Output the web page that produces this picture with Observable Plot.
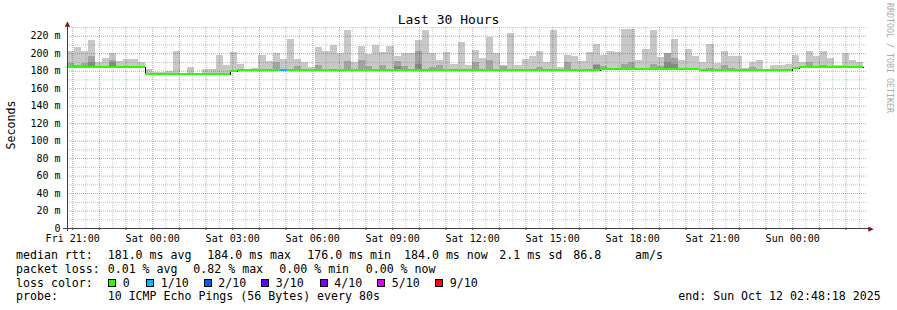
<!DOCTYPE html>
<html><head><meta charset="utf-8">
<script src="https://cdn.jsdelivr.net/npm/d3@7"></script>
<script src="https://cdn.jsdelivr.net/npm/@observablehq/plot@0.6"></script>
<style>
body{margin:0;background:#fff;}
#wrap{position:relative;width:897px;height:310px;background:#fff;overflow:hidden;font-family:"DejaVu Sans Mono",monospace;color:#000;}
#chart{position:absolute;left:0;top:0;}
.t{position:absolute;white-space:pre;font-size:11.6px;line-height:12px;}
.sw{position:absolute;width:8px;height:8px;box-sizing:border-box;border:1px solid #000;}
</style></head><body><div id="wrap"><div id="chart"></div></div>
<script>
// ---- time frame ----
const startTime = new Date(Date.UTC(2025, 9, 10, 20, 48, 18));
const endTime = new Date(Date.UTC(2025, 9, 12, 2, 48, 18));
const firstBoundary = Date.UTC(2025, 9, 10, 21, 3, 0);
const binMinutes = 16;

// ---- series values (ms), one per 16-minute column ----
const smokeMax = [
  203,207,202,215,190,195,200,191,193,193,
  190,182,179,179,180,202,177,184,177,182,
  182,198,186,201,188,182,183,198,191,200,
  193,216,193,190,184,207,203,209,200,226,
  190,208,199,209,201,208,197,200,200,215,
  226,200,192,201,188,213,187,204,194,219,
  200,186,223,186,193,197,203,190,226,184,
  198,197,191,201,211,198,203,201,228,228,
  192,205,227,196,200,216,192,205,197,190,
  210,189,202,197,197,183,190,192,181,186,
  186,188,198,190,202,197,203,194,186,200,
  192,190
];
const smokeMid = [
  189,186,189,197,null,null,192,null,null,null,
  null,null,null,null,null,null,null,null,null,null,
  null,null,null,null,null,null,null,null,null,190,
  null,null,185,null,null,186,null,null,null,191,
  null,192,185,null,186,null,191,185,null,203,
  null,184,186,null,null,null,null,190,null,192,
  null,185,null,null,null,null,184,null,null,null,
  190,null,null,null,188,185,null,null,188,190,
  null,null,188,185,200,194,null,null,null,null,
  183,null,186,183,null,null,184,null,null,null,
  null,null,null,null,190,null,186,null,null,null,
  null,null
];
const smokeDense = [
  null,null,null,190,null,null,190,null,null,null,
  null,null,null,null,null,null,null,null,null,null,
  null,null,null,null,null,null,null,null,null,null,
  null,null,null,null,null,null,null,null,null,null,
  null,null,null,null,null,null,185,null,null,188,
  null,null,null,null,null,null,null,null,null,null,
  null,null,null,null,null,null,null,null,null,null,
  null,null,null,null,186,null,null,null,null,null,
  null,null,null,null,190,188,null,null,null,null,
  null,null,null,null,null,null,null,null,null,null,
  null,null,null,null,null,null,null,null,null,null,
  null,null
];
const medians = [
  184,184,184,184,184,184,184,184,184,184,
  184,176,176,176,176,176,176,176,176,176,
  176,176,176,179.5,181,181,181,181,181,181,
  181,181,181,181,181,181,181,181,181,181,
  181,181,181,181,181,181,181,181,181,181,
  181,181,181,181,181,181,181,181,181,181,
  181,181,181,181,181,181,181,181,181,181,
  181,181,181,181,181,182,182,182,182,182,
  182,182,182,182,182,182,182,182,182,181,
  181,181,181,181,181,181,181,181,181,181,
  181,181,183,184,184,184,184,184,184,184,
  184,184
];
const lossLevel = [
  0,0,0,0,0,0,0,0,0,0,
  0,0,0,0,0,0,0,0,0,0,
  0,0,0,0,0,0,0,0,0,0,
  1,0,0,0,0,0,0,0,0,0,
  0,0,0,0,0,0,0,0,0,0,
  0,0,0,0,0,0,0,0,0,0,
  0,0,0,0,0,0,0,0,0,0,
  0,0,0,0,0,0,0,0,0,0,
  0,0,0,0,0,0,0,0,0,0,
  0,0,0,0,0,0,0,0,0,0,
  0,0,0,0,0,0,0,0,0,0,
  0,0
];

// ---- legend / labels ----
const lossColors = ["#26ff00", "#00b8ff", "#0059ff", "#5e00ff", "#7e00ff", "#dd00ff", "#ff0000"];
const lossLabels = ["0", "1/10", "2/10", "3/10", "4/10", "5/10", "9/10"];
const yTicks = [0,20,40,60,80,100,120,140,160,180,200,220];
const titleText = "Last 30 Hours";
const yLabel = "Seconds";
const sideText = "RRDTOOL / TOBI OETIKER";
const legendRtt = ["median rtt:", "181.0 ms avg", "184.0 ms max", "176.0 ms min", "184.0 ms now", "2.1 ms sd", "86.8", "am/s"];
const legendLoss = ["packet loss:", "0.01 % avg", "0.82 % max", "0.00 % min", "0.00 % now"];
const legendProbe = ["probe:", "10 ICMP Echo Pings (56 Bytes) every 80s", "end: Sun Oct 12 02:48:18 2025"];

// ---- build table ----
const binMs = binMinutes * 60 * 1000;
const cols = smokeMax.map((max, k) => ({
  x1: k === 0 ? startTime : new Date(firstBoundary + (k - 1) * binMs),
  x2: new Date(firstBoundary + k * binMs),
  max, mid: smokeMid[k], dense: smokeDense[k], median: medians[k], loss: lossLevel[k]
}));
const stepPts = cols.map(d => ({x: d.x1, y: d.median}));
stepPts.push({x: cols[cols.length - 1].x2, y: cols[cols.length - 1].median});

const majorY = yTicks.filter(v => v > 0);
const minorY = d3.range(10, 231, 20);
const majorX = d3.utcHour.range(startTime, endTime);
const minorX = d3.utcMinute.every(30).range(startTime, endTime).filter(d => d.getUTCMinutes() === 30);
const labelX = d3.utcHour.every(3).range(startTime, endTime);

const crisp = {shapeRendering: "crispEdges"};
const minorStyle = {stroke: "#808080", strokeOpacity: 0.45, strokeDasharray: "1,1"};
const majorStyle = {stroke: "#ff0000", strokeOpacity: 0.45, strokeDasharray: "1,1"};
const plot = Plot.plot({
  width: 897, height: 245,
  marginLeft: 67, marginRight: 30, marginTop: 27, marginBottom: 17,
  style: {fontFamily: "'DejaVu Sans Mono', monospace", fontSize: "10px", background: "transparent", color: "#000", overflow: "visible"},
  x: {type: "utc", domain: [startTime, endTime]},
  y: {type: "linear", domain: [0, 230]},
  color: {type: "identity"},
  marks: [
    Plot.rect(cols, {x1: "x1", x2: "x2", y1: "median", y2: "max", fill: "#c8c8c8", ...crisp}),
    Plot.rect(cols.filter(d => d.mid != null), {x1: "x1", x2: "x2", y1: "median", y2: "mid", fill: "#a3a3a3", ...crisp}),
    Plot.rect(cols.filter(d => d.dense != null), {x1: "x1", x2: "x2", y1: "median", y2: "dense", fill: "#888888", ...crisp}),
    Plot.ruleY(minorY, minorStyle),
    Plot.ruleX(minorX, minorStyle),
    Plot.ruleY(majorY, majorStyle),
    Plot.ruleX(majorX, majorStyle),
    Plot.line(stepPts, {x: "x", y: "y", curve: "step-after", stroke: "#000", strokeWidth: 1, ...crisp}),
    Plot.rect(cols, {x1: "x1", x2: "x2", y1: d => d.median - 1.15, y2: d => d.median + 1.15, fill: d => lossColors[d.loss], ...crisp}),
    Plot.ruleX([startTime], {y1: () => -4, y2: () => 236, stroke: "#404040", ...crisp}),
    Plot.ruleY([0], {x1: () => new Date(+startTime - 10 * 60000), x2: () => new Date(+endTime + 8 * 60000), stroke: "#404040", ...crisp}),
    Plot.text(["\u25B2"], {x: () => startTime, y: () => 234.6, text: d => d, fill: "#7f1515", fontSize: 7, fontFamily: "DejaVu Sans"}),
    Plot.text(["\u25B6"], {x: () => new Date(+endTime + 8 * 60000), y: () => 0, text: d => d, fill: "#7f1515", fontSize: 7, fontFamily: "DejaVu Sans"}),
    Plot.axisY({ticks: yTicks, tickFormat: d => d === 0 ? "0" : `${d} m`, tickSize: 0, tickPadding: 7, label: null}),
    Plot.axisX({ticks: labelX, tickFormat: d3.utcFormat("%a %H:%M"), tickSize: 0, tickPadding: 6, label: null}),
    Plot.axisX({ticks: majorX, tickFormat: () => "", tickSize: 2, tickPadding: 0, label: null, stroke: "#404040"})
  ]
});
document.getElementById("chart").appendChild(plot);

// ---- texts around the plot ----
const wrap = document.getElementById("wrap");
function addText(txt, left, top, extra) {
  const el = document.createElement("div");
  el.className = "t";
  el.textContent = txt;
  el.style.left = left + "px";
  el.style.top = top + "px";
  if (extra) Object.assign(el.style, extra);
  wrap.appendChild(el);
  return el;
}
addText(titleText, 0, 13, {width: "897px", textAlign: "center", fontSize: "13px", lineHeight: "13px"});
addText(yLabel, 11, 125, {transform: "translate(-50%,-50%) rotate(-90deg)"});
addText(sideText, 889, 58, {transform: "translate(-50%,-50%) rotate(90deg)", fontSize: "8.3px", color: "#aaaaaa", lineHeight: "9px"});

const rttX = [16, 107.7, 207.3, 307.3, 404, 499.3, 573.3, 635];
legendRtt.forEach((s, i) => addText(s, rttX[i], 249));
const lossX = [16, 107.7, 193.3, 279.3, 365.7];
legendLoss.forEach((s, i) => addText(s, lossX[i], 262.5));
addText("loss color:", 16, 276.5);
const swX = [108, 146, 203.5, 261, 319.5, 377, 435];
lossLabels.forEach((s, i) => {
  const b = document.createElement("div");
  b.className = "sw";
  b.style.left = swX[i] + "px";
  b.style.top = "279px";
  b.style.background = lossColors[i];
  wrap.appendChild(b);
  addText(s, swX[i] + 14.7, 276.5);
});
const probeX = [16, 107.7, 678.3];
legendProbe.forEach((s, i) => addText(s, probeX[i], 290));
</script></body></html>
